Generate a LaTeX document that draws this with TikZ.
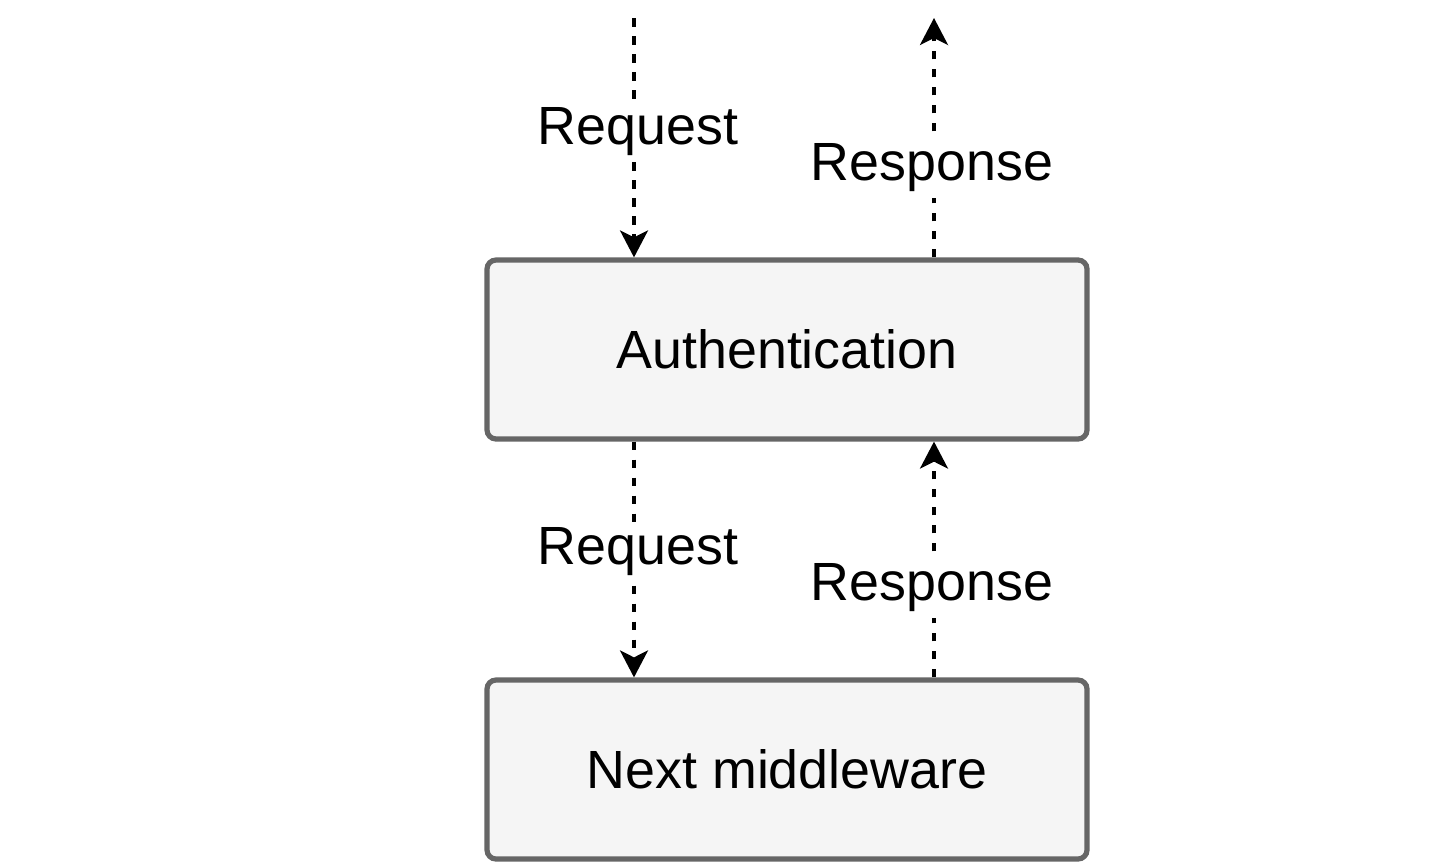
\documentclass[tikz,border=0pt]{standalone}
\usepackage{fontspec}
\setmainfont{Liberation Sans}
\usetikzlibrary{arrows.meta}
\definecolor{boxfill}{HTML}{F5F5F5}
\definecolor{boxline}{HTML}{666666}
\tikzset{
  px/.style={x=0.5pt,y=-0.5pt},
  mbox/.style={draw=boxline, fill=boxfill, line width=2.6pt, rounded corners=4.5pt,
    minimum width=300pt, minimum height=89.5pt, inner sep=0pt,
    font=\fontsize{26.9pt}{32pt}\selectfont},
  flow/.style={draw=black, line width=1.7pt, dash pattern=on 4.3pt off 4.7pt,
    -{Stealth[length=13.5pt,width=14pt,inset=3.5pt]}},
  lbl/.style={fill=white, inner sep=3pt, font=\fontsize{26.9pt}{32pt}\selectfont}
}
\begin{document}
\begin{tikzpicture}[px]
\useasboundingbox (0,0) rectangle (1452,867);
\node[mbox] (auth) at (787,349.5) {Authentication};
\node[mbox] (next) at (787,769.5) {Next middleware};
\coordinate (inTop) at (634,18);
\coordinate (outTop) at (934,18);
% request into authentication
\draw[flow] (inTop) -- (inTop |- auth.north);
\node[lbl] (req1) at (638,132) {Request};
% response out of authentication
\draw[flow] (outTop |- auth.north) -- (outTop);
\node[lbl] (res1) at (932,168) {Response};
% request into next
\draw[flow] (inTop |- auth.south) -- (inTop |- next.north);
\node[lbl] (req2) at (638,552) {Request};
% response back to authentication
\draw[flow] (outTop |- next.north) -- (outTop |- auth.south);
\node[lbl] (res2) at (932,588) {Response};
\end{tikzpicture}
\end{document}
